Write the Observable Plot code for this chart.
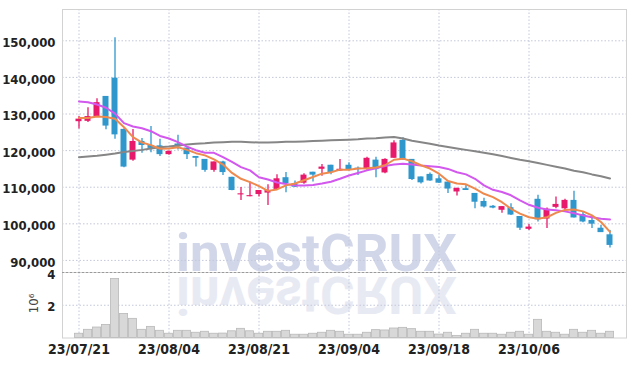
<!DOCTYPE html>
<html>
<head>
<meta charset="utf-8">
<script src="https://cdn.jsdelivr.net/npm/d3@7"></script>
<script src="https://cdn.jsdelivr.net/npm/@observablehq/plot@0.6"></script>
<style>
  html, body { margin: 0; padding: 0; background: #fff; overflow: hidden; }
  #wrap { position: relative; width: 635px; height: 366px; }
  #wrap > svg, #wrap > div { position: absolute; left: 0; }
</style>
</head>
<body>
<div id="wrap"></div>
<script>
const dates = ["23/07/21","23/07/24","23/07/25","23/07/26","23/07/27","23/07/28","23/07/31","23/08/01","23/08/02","23/08/03",
"23/08/04","23/08/07","23/08/08","23/08/09","23/08/10","23/08/11","23/08/14","23/08/16","23/08/17","23/08/18",
"23/08/21","23/08/22","23/08/23","23/08/24","23/08/25","23/08/28","23/08/29","23/08/30","23/08/31","23/09/01",
"23/09/04","23/09/05","23/09/06","23/09/07","23/09/08","23/09/11","23/09/12","23/09/13","23/09/14","23/09/15",
"23/09/18","23/09/19","23/09/20","23/09/21","23/09/22","23/09/25","23/09/26","23/09/27","23/10/04","23/10/05",
"23/10/06","23/10/10","23/10/11","23/10/12","23/10/13","23/10/16","23/10/17","23/10/18","23/10/19","23/10/20"];

const tickDates = ["23/07/21","23/08/04","23/08/21","23/09/04","23/09/18","23/10/06"];
const priceTicks = [90000,100000,110000,120000,130000,140000,150000];
const volumeTicks = [2,4];

const open  = [127900,128000,129300,134800,139800,125800,117400,122500,121400,121300,
               118900,121800,120700,118400,117600,114600,116900,112700,107900,107400,
               108000,108400,109400,112600,110900,111100,114100,114900,116000,114400,
               116000,115200,114800,117400,113900,117900,122800,117600,112800,113500,
               112300,111400,108700,109600,108300,106100,104800,103700,104400,102000,
               98500,106700,101300,104500,104100,106400,102500,100900,98800,97000];
const close = [128600,129300,133100,126700,124300,115500,122500,121400,120600,118900,
               119800,121000,118900,117900,114600,116900,114000,109100,108200,107700,
               109100,109100,112300,111000,110000,113300,113300,115500,114000,114900,
               114700,114800,117900,114800,117600,122100,117500,112100,111200,111700,
               111100,109500,109700,109100,105900,104600,104300,104700,102400,98800,
               99100,101100,104000,105300,106400,101600,100500,99900,97600,94100];
const high  = [129300,131700,134200,134800,150800,126000,125800,123300,126600,123100,
               119900,124200,120700,118400,117600,116900,117100,112700,109900,111400,
               109100,110700,113400,114000,111700,113700,114100,116200,116000,117600,
               116700,115500,118200,118200,117800,122700,123500,117600,112800,113900,
               113200,111400,109700,110500,108300,107000,105000,104700,105500,102000,
               99800,107800,104300,107300,106700,108900,103200,102300,99600,98200];
const low   = [125900,127700,129300,125700,123100,115300,117100,119300,119400,118400,
               118700,120200,117600,115500,114100,114100,113200,109000,106400,107400,
               107300,105000,109100,108500,109900,110800,111400,113000,113400,114400,
               114400,113200,114600,112600,113700,117900,117300,111800,110900,111600,
               111000,108300,107600,109100,104100,104300,104100,102900,102300,98200,
               98200,100500,98700,104100,103400,101600,100300,98700,97600,93400];
const ma5   = [128900,128900,129300,129200,128700,126400,123700,122200,121500,120500,
               120600,120900,120200,119300,118700,117600,116200,113900,112300,111400,
               110300,109000,109400,110500,111000,111900,112800,113700,114100,114800,
               114800,115100,115200,115400,116000,117500,117800,117100,116000,115100,
               113700,111700,111000,110800,109600,108200,107300,105900,104100,102800,
               101800,101400,101800,103000,103800,103900,103400,102300,100500,97800];
const ma20  = [133400,133200,132600,131700,130100,127500,126600,126100,125300,124000,
               123300,122300,121100,120100,119400,119400,118200,116900,115500,114600,
               112700,112100,111300,110900,110500,110500,110600,111000,111500,112300,
               113200,113900,114600,115200,115800,116200,116400,116200,115900,115700,
               115500,115000,114100,113500,112300,110500,109300,108700,107800,106400,
               105200,104400,103900,103700,103400,102900,102300,101800,101400,101200];
const ma60  = [118200,118400,118600,118900,119200,119600,119900,120200,120600,120900,
               121100,121400,121700,121900,122000,122200,122300,122400,122400,122300,
               122200,122200,122300,122400,122400,122500,122600,122700,122800,122900,
               123000,123100,123300,123400,123600,123700,123300,122700,122300,121900,
               121400,121000,120600,120200,119800,119400,119000,118500,118000,117500,
               117100,116600,116100,115600,115100,114500,114100,113500,113000,112400];
const volume = [0.26,0.5,0.64,0.8,3.6,1.47,1.17,0.5,0.68,0.44,
                0.26,0.44,0.44,0.32,0.38,0.26,0.27,0.41,0.56,0.41,
                0.26,0.38,0.38,0.44,0.2,0.2,0.26,0.32,0.44,0.38,
                0.2,0.2,0.32,0.48,0.46,0.58,0.62,0.54,0.38,0.38,
                0.21,0.32,0.13,0.26,0.5,0.26,0.26,0.2,0.32,0.38,
                0.2,1.11,0.38,0.32,0.2,0.5,0.32,0.44,0.26,0.38];

const UP = "#e8196a", DOWN = "#2f97cc";
const GRID = "#c3c7da";
const FONT = "'DejaVu Sans Condensed', 'DejaVu Sans', sans-serif";

const rows = dates.map((date, i) => ({
  date, open: open[i], close: close[i], high: high[i], low: low[i],
  volume: volume[i], ma5: ma5[i], ma20: ma20[i], ma60: ma60[i]
}));
const col = d => d.close >= d.open ? UP : DOWN;

const baseStyle = {background: "transparent", fontFamily: FONT, fontStretch: "condensed", fontSize: "13px", fontWeight: "bold", color: "#222", overflow: "visible"};

const wrap = document.getElementById("wrap");

// watermark (behind the charts)
const ns = "http://www.w3.org/2000/svg";
const wm = document.createElementNS(ns, "svg");
wm.setAttribute("width", 635); wm.setAttribute("height", 366);
wm.style.top = "0px";
function wmText(fill, transform) {
  const t = document.createElementNS(ns, "text");
  t.setAttribute("x", 316.5); t.setAttribute("y", 271);
  t.setAttribute("text-anchor", "middle");
  t.setAttribute("font-family", "Roboto, 'DejaVu Sans', sans-serif");
  t.setAttribute("font-weight", "bold");
  t.setAttribute("font-size", 51);
  t.setAttribute("textLength", 281);
  t.setAttribute("lengthAdjust", "spacingAndGlyphs");
  t.setAttribute("fill", fill);
  if (transform) t.setAttribute("transform", transform);
  t.textContent = "investCRUX";
  wm.appendChild(t);
}
wmText("#e8eaf3", "translate(0,548) scale(1,-1)");
wmText("#d1d6e9");
wrap.appendChild(wm);

const price = Plot.plot({
  width: 635, height: 272,
  marginTop: 9, marginBottom: 0, marginLeft: 62, marginRight: 9,
  style: baseStyle,
  x: {type: "band", domain: dates, padding: 0, axis: null},
  y: {domain: [86700, 158550], label: null, axis: null},
  marks: [
    Plot.gridY(priceTicks, {stroke: GRID, strokeOpacity: 1, strokeDasharray: "1.5,2"}),
    Plot.gridX(tickDates, {stroke: GRID, strokeOpacity: 1, strokeDasharray: "1.5,2"}),
    Plot.frame({stroke: "#d2d2d2"}),
    Plot.axisY({ticks: priceTicks, tickSize: 0, tickPadding: 7, dy: 2, tickFormat: d3.format(","), label: null}),
    Plot.ruleX(rows, {x: "date", y1: "low", y2: "high", stroke: col, strokeWidth: 1.3}),
    Plot.barY(rows, {x: "date", y1: "open", y2: "close", fill: col, insetLeft: 1.5, insetRight: 1.5}),
    Plot.line(rows, {x: "date", y: "ma60", stroke: "#868686", strokeWidth: 2}),
    Plot.line(rows, {x: "date", y: "ma20", stroke: "#d258ee", strokeWidth: 2}),
    Plot.line(rows, {x: "date", y: "ma5", stroke: "#ee8a4e", strokeWidth: 2})
  ]
});
price.style.top = "0px";
wrap.appendChild(price);

const vol = Plot.plot({
  width: 635, height: 104,
  marginTop: 10, marginBottom: 28.5, marginLeft: 62, marginRight: 9,
  style: baseStyle,
  x: {type: "band", domain: dates, padding: 0, label: null},
  y: {domain: [0, 4], label: null},
  marks: [
    Plot.gridY([2], {stroke: GRID, strokeOpacity: 1, strokeDasharray: "1.5,2"}),
    Plot.gridX(tickDates, {stroke: GRID, strokeOpacity: 1, strokeDasharray: "1.5,2"}),
    Plot.frame({stroke: "#d2d2d2"}),
    Plot.barY(rows, {x: "date", y: "volume", fill: "#d8d8d8", stroke: "#b9b9b9", strokeWidth: 0.8, insetLeft: 0.4, insetRight: 0.4}),
    Plot.ruleY([4], {stroke: "#9a9a9a", strokeDasharray: "2,2"}),
    Plot.axisY({ticks: volumeTicks, tickSize: 0, tickPadding: 7, dy: 2, tickFormat: d => String(d), label: null}),
    Plot.axisX({ticks: tickDates, tickSize: 0, tickPadding: 6, fontSize: 14, label: null}),
    Plot.text(["10⁶"], {text: d => d, frameAnchor: "left", dx: -29, dy: 8, rotate: -90, fontSize: 13, fontWeight: "normal", fill: "#444", fontFamily: "'DejaVu Sans', sans-serif"})
  ]
});
vol.style.top = "262px";
wrap.appendChild(vol);
</script>
</body>
</html>
